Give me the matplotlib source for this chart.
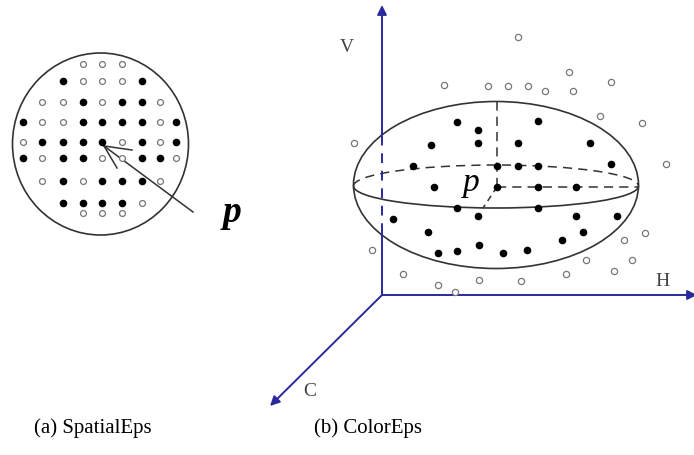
import matplotlib.pyplot as plt
from matplotlib.patches import Ellipse, Arc

# pixel-style canvas, y grows downwards
W, H = 694, 455

# (a) spatial neighbourhood: grid rows, x positions of filled / open dots
row_y = [64, 81, 102, 122, 142, 158, 181, 203, 213]
grid_x = [23, 42, 63, 83, 102, 122, 142, 160, 176]
# 1 = filled, 0 = open, None = empty
grid = [
    [None, None, None, 0, 0, 0, None, None, None],
    [None, None, 1, 0, 0, 0, 1, None, None],
    [None, 0, 0, 1, 0, 1, 1, 0, None],
    [1, 0, 0, 1, 1, 1, 1, 0, 1],
    [0, 1, 1, 1, 1, 0, 1, 0, 1],
    [1, 0, 1, 1, 0, 0, 1, 1, 0],
    [None, 0, 1, 0, 1, 1, 1, 0, None],
    [None, None, 1, 1, 1, 1, 0, None, None],
    [None, None, None, 0, 0, 0, None, None, None],
]

# (b) colour neighbourhood in HVC space
in_x = [457, 538, 478, 431, 478, 518, 590, 413, 497, 518, 538, 611, 434, 497, 538,
        576, 457, 538, 478, 393, 576, 617, 428, 583, 562, 438, 457, 479, 503, 527]
in_y = [122, 121, 130, 145, 143, 143, 143, 166, 166, 166, 166, 164, 187, 187, 187,
        187, 208, 208, 216, 219, 216, 216, 232, 232, 240, 253, 251, 245, 253, 250]
out_x = [518, 569, 611, 444, 488, 508, 528, 545, 573, 600, 642, 354, 666, 645, 624,
         372, 586, 632, 614, 403, 566, 479, 521, 438, 455]
out_y = [37, 72, 82, 85, 86, 86, 86, 91, 91, 116, 123, 143, 164, 233, 240,
         250, 260, 260, 271, 274, 274, 280, 281, 285, 292]

blue = '#2a2a9c'
edge = '#333333'

fig = plt.figure(figsize=(6.94, 4.55), dpi=100)
ax = fig.add_axes([0, 0, 1, 1])
ax.set_xlim(0, W)
ax.set_ylim(H, 0)
ax.axis('off')

# ---- (a) ----
ax.add_patch(Ellipse((100.5, 144), 176, 182, fill=False, ec=edge, lw=1.2))
fx, fy, ox, oy = [], [], [], []
for y, row in zip(row_y, grid):
    for x, v in zip(grid_x, row):
        if v == 1:
            fx.append(x); fy.append(y)
        elif v == 0:
            ox.append(x); oy.append(y)
ax.scatter(fx, fy, s=20, c='black', zorder=3)
ax.scatter(ox, oy, s=18, facecolors='white', edgecolors='#777777', linewidths=0.9, zorder=3)

# pointer to p with open arrowhead
ax.plot([193, 104], [212, 146], color=edge, lw=1.1)
ax.plot([132, 104, 117], [150, 146, 168], color=edge, lw=1.1)
ax.text(232, 212, 'p', fontsize=27, fontstyle='italic', fontweight='bold',
        family='Liberation Serif', ha='center', va='center')

# ---- (b) ----
ox0, oy0 = 382, 295
arrow = dict(arrowstyle='-|>', color=blue, lw=1.4, mutation_scale=14, shrinkA=0, shrinkB=0)
# V axis: hidden part inside the ellipse is dashed
ax.plot([ox0, ox0], [oy0, 233], color=blue, lw=1.4)
ax.plot([ox0, ox0], [233, 135], color=blue, lw=1.4, ls=(0, (5, 4)))
ax.annotate('', xy=(ox0, 5), xytext=(ox0, 135), arrowprops=arrow, annotation_clip=False)
ax.annotate('', xy=(697, oy0), xytext=(ox0, oy0), arrowprops=arrow, annotation_clip=False)
ax.annotate('', xy=(270, 406), xytext=(ox0, oy0), arrowprops=arrow, annotation_clip=False)
for lbl, (x, y) in {'V': (347, 47), 'H': (663, 282), 'C': (310, 392)}.items():
    ax.text(x, y, lbl, fontsize=14, family='Liberation Serif', color='#444444',
            ha='center', va='center')

cx, cy = 496, 185
ax.add_patch(Ellipse((cx, cy), 285, 167, fill=False, ec=edge, lw=1.2))
# equator: front half solid, back half dashed
ax.add_patch(Arc((cx, 186), 285, 44, theta1=0, theta2=180, ec=edge, lw=1.2))
ax.add_patch(Arc((cx, 186), 285, 42, theta1=180, theta2=360, ec=edge, lw=1.1, ls=(0, (6, 4))))
ax.plot([497, 497], [187, 102], color=edge, lw=1.1, ls=(0, (6, 4)))
ax.plot([497, 638], [187, 187], color=edge, lw=1.1, ls=(0, (6, 4)))
ax.plot([497, 483], [187, 208], color=edge, lw=1.1, ls=(0, (4, 3)))

ax.scatter(in_x, in_y, s=20, c='black', zorder=3)
ax.scatter(out_x, out_y, s=20, facecolors='white', edgecolors='#777777', linewidths=0.9, zorder=3)
ax.text(471, 183, 'p', fontsize=24, fontstyle='italic', family='Liberation Serif',
        ha='center', va='center')

# captions
ax.text(93, 428, '(a) SpatialEps', fontsize=15, family='Liberation Serif',
        ha='center', va='center')
ax.text(368, 428, '(b) ColorEps', fontsize=15, family='Liberation Serif',
        ha='center', va='center')

fig.savefig('out.png', dpi=100)
